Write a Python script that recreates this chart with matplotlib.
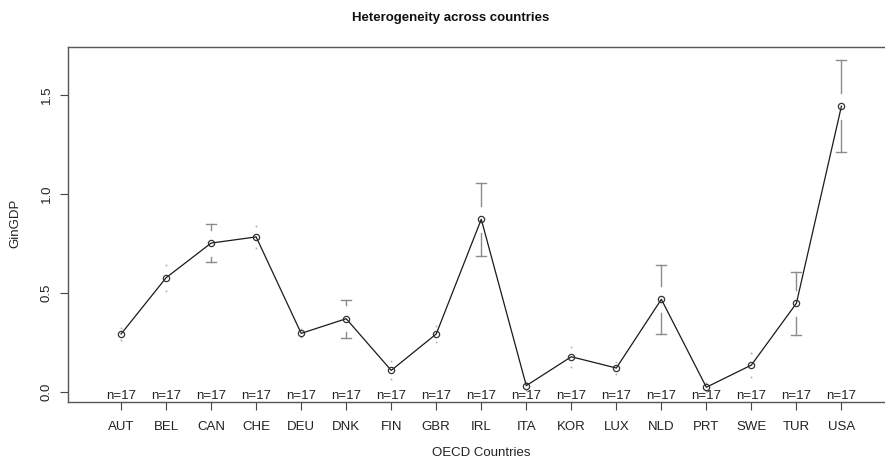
import numpy as np
import matplotlib
matplotlib.use("Agg")
import matplotlib.pyplot as plt

countries = ["AUT", "BEL", "CAN", "CHE", "DEU", "DNK", "FIN", "GBR", "IRL",
             "ITA", "KOR", "LUX", "NLD", "PRT", "SWE", "TUR", "USA"]
means = [0.293, 0.577, 0.752, 0.783, 0.296, 0.370, 0.109, 0.293, 0.872,
         0.032, 0.178, 0.121, 0.468, 0.024, 0.136, 0.448, 1.443]
ci_half = [0.030, 0.065, 0.097, 0.055, 0.020, 0.097, 0.045, 0.039, 0.185,
           0.020, 0.050, 0.030, 0.175, 0.020, 0.059, 0.160, 0.232]
n_obs = [17] * len(countries)

plt.rcParams["font.family"] = ["Liberation Sans", "DejaVu Sans"]

fig = plt.figure(figsize=(8.85, 4.63), dpi=100)
ax = fig.add_axes([0.0768, 0.1324, 0.934, 0.7661])

x = np.arange(1, len(countries) + 1)
m = np.array(means)
h = np.array(ci_half)
upper = m + h
lower = m - h

gap = 0.068          # blank space left around each mean point
cap = 0.11           # half-width of the error bar caps (x units)
bar_col = "#8c8c8c"

for xi, yi, lo, hi in zip(x, m, lower, upper):
    if hi > yi + gap:
        ax.plot([xi, xi], [yi + gap, hi], color=bar_col, lw=1.0)
        ax.plot([xi - cap, xi + cap], [hi, hi], color=bar_col, lw=1.0)
        ax.plot([xi, xi], [lo, yi - gap], color=bar_col, lw=1.0)
        ax.plot([xi - cap, xi + cap], [lo, lo], color=bar_col, lw=1.0)
    else:
        ax.plot([xi, xi], [hi, lo], ls="none", marker="s", ms=1.2,
                color="#b0b0b0", mec="none")

ax.plot(x, m, color="#1a1a1a", lw=0.9, zorder=3)
ax.plot(x, m, ls="none", marker="o", ms=4.5, mfc="none", mec="#333333",
        mew=0.9, zorder=4)

ax.set_xlim(-0.18, 18.18)
ax.set_ylim(-0.049, 1.742)

for xi, n in zip(x, n_obs):
    ax.text(xi, -0.049, f"n={n}", ha="center", va="bottom", fontsize=9.5,
            color="#222222")

ax.set_xticks(x)
ax.set_xticklabels(countries)
ax.set_yticks([0.0, 0.5, 1.0, 1.5])
ax.set_yticklabels(["0.0", "0.5", "1.0", "1.5"], rotation=90, va="center")
ax.tick_params(axis="both", direction="out", length=6, width=0.8,
               colors="#444444", labelcolor="#222222", labelsize=9.5)
ax.tick_params(axis="x", pad=8)
ax.tick_params(axis="y", pad=5)

for s in ax.spines.values():
    s.set_color("#555555")
    s.set_linewidth(1.0)

fig.text(481 / 885, 1 - 453 / 463, "OECD Countries", ha="center",
         va="center", fontsize=9.5, color="#222222")
fig.text(15 / 885, 1 - 223 / 463, "GinGDP", ha="center", va="center",
         rotation=90, fontsize=9.5, color="#222222")
fig.text(451 / 885, 1 - 18 / 463, "Heterogeneity across countries",
         ha="center", va="center", fontsize=9.5, fontweight="bold",
         color="#111111")

fig.savefig("out.png", dpi=100)
